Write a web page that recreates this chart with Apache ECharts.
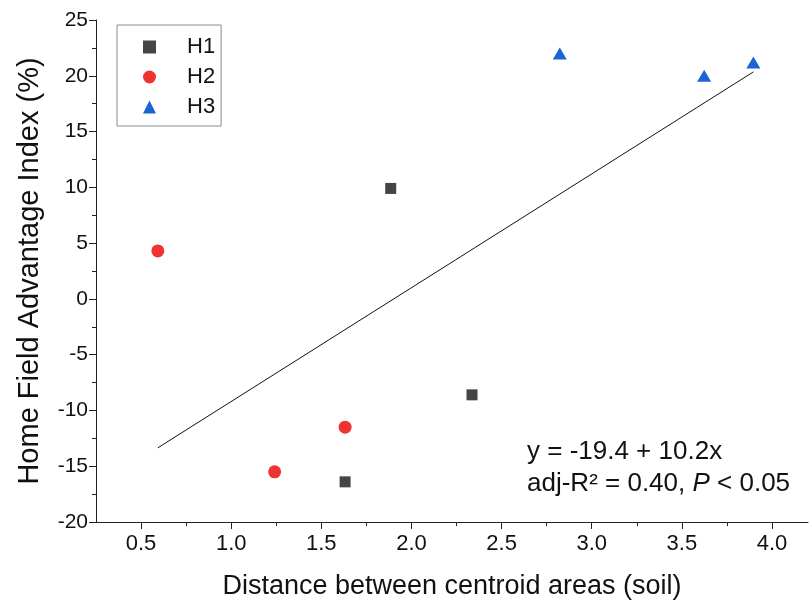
<!DOCTYPE html>
<html>
<head>
<meta charset="utf-8">
<script src="https://cdn.jsdelivr.net/npm/echarts@6/dist/echarts.min.js"></script>
<style>
html,body{margin:0;padding:0;background:#fff;}
#c{width:810px;height:608px;}
</style>
</head>
<body>
<div id="c"></div>
<script>
// ---- data ----
const h1X = [1.885, 2.336, 1.632];
const h1Y = [9.9, -8.6, -16.4];
const h2X = [0.593, 1.632, 1.241];
const h2Y = [4.3, -11.5, -15.5];
const h3X = [2.823, 3.624, 3.897];
const h3Y = [22.0, 20.0, 21.2];
const fitIntercept = -19.4;
const fitSlope = 10.2;
const xMajorTicks = [0.5, 1.0, 1.5, 2.0, 2.5, 3.0, 3.5, 4.0];
const xMinorTicks = [0.75, 1.25, 1.75, 2.25, 2.75, 3.25, 3.75];
const seriesNames = ['H1', 'H2', 'H3'];

const FONT = '"Liberation Sans", Arial, sans-serif';
const zip = (xs, ys) => xs.map((x, i) => [x, ys[i]]);
const allX = h1X.concat(h2X, h3X);
const xLo = Math.min(...allX), xHi = Math.max(...allX);
const fitLine = [[xLo, fitIntercept + fitSlope * xLo], [xHi, fitIntercept + fitSlope * xHi]];

const chart = echarts.init(document.getElementById('c'), null, {renderer: 'canvas'});
chart.setOption({
  animation: false,
  backgroundColor: '#fff',
  textStyle: {fontFamily: FONT},
  grid: {left: 96, right: 2, top: 20, bottom: 86, containLabel: false},
  legend: {
    orient: 'vertical',
    left: 117, top: 25,
    data: seriesNames,
    borderColor: '#8c8c8c', borderWidth: 1,
    padding: [11, 6, 8, 26],
    itemWidth: 13, itemHeight: 13, itemGap: 8,
    symbolKeepAspect: true,
    textStyle: {fontSize: 22, color: '#111', fontFamily: FONT, padding: [0, 0, 0, 26]}
  },
  xAxis: [{
    type: 'value', min: 0.25, max: 4.2,
    name: 'Distance between centroid areas (soil)',
    nameLocation: 'middle', nameGap: 51,
    nameTextStyle: {fontSize: 27, color: '#111', fontFamily: FONT},
    axisLine: {show: true, onZero: false, lineStyle: {color: '#222', width: 1}},
    axisTick: {show: true, inside: false, length: 7, customValues: xMajorTicks, lineStyle: {color: '#222'}},
    axisLabel: {show: true, customValues: xMajorTicks, fontSize: 22, color: '#111', margin: 11, fontFamily: FONT,
      formatter: v => v.toFixed(1)},
    splitLine: {show: false}
  }, {
    type: 'value', min: 0.25, max: 4.2, position: 'bottom', gridIndex: 0,
    axisLine: {show: false, onZero: false},
    axisTick: {show: true, inside: false, length: 4, customValues: xMinorTicks, lineStyle: {color: '#222'}},
    axisLabel: {show: false},
    splitLine: {show: false}
  }],
  yAxis: {
    type: 'value', min: -20, max: 25, interval: 5,
    name: 'Home Field Advantage Index (%)',
    nameLocation: 'middle', nameGap: 52,
    nameTextStyle: {fontSize: 29, color: '#111', fontFamily: FONT},
    axisLine: {show: true, onZero: false, lineStyle: {color: '#222', width: 1}},
    axisTick: {show: true, inside: false, length: 7, lineStyle: {color: '#222'}},
    minorTick: {show: true, splitNumber: 2, length: 4, lineStyle: {color: '#222'}},
    axisLabel: {fontSize: 21, color: '#111', margin: 8, fontFamily: FONT},
    splitLine: {show: false}
  },
  series: [
    {name: 'Fit', type: 'line', data: fitLine, symbol: 'none', showSymbol: false,
     lineStyle: {color: '#111', width: 1}, silent: true, z: 1},
    {name: 'H1', type: 'scatter', data: zip(h1X, h1Y), symbol: 'rect', symbolSize: 11,
     itemStyle: {color: '#454545', opacity: 1}, z: 3},
    {name: 'H2', type: 'scatter', data: zip(h2X, h2Y), symbol: 'circle', symbolSize: 13,
     itemStyle: {color: '#ee3333', opacity: 1}, z: 3},
    {name: 'H3', type: 'scatter', data: zip(h3X, h3Y), symbol: 'triangle', symbolSize: [14, 12],
     itemStyle: {color: '#1a64d6', opacity: 1}, z: 3}
  ],
  graphic: [{
    type: 'text', left: 527, top: 436,
    style: {
      text: 'y = -19.4 + 10.2x\nadj-R² = 0.40, {i|P} < 0.05',
      font: '26px ' + FONT, fill: '#111', lineHeight: 32,
      rich: {i: {fontStyle: 'italic', fontSize: 26, fontFamily: FONT, fill: '#111', lineHeight: 32}}
    }
  }]
});
</script>
</body>
</html>
